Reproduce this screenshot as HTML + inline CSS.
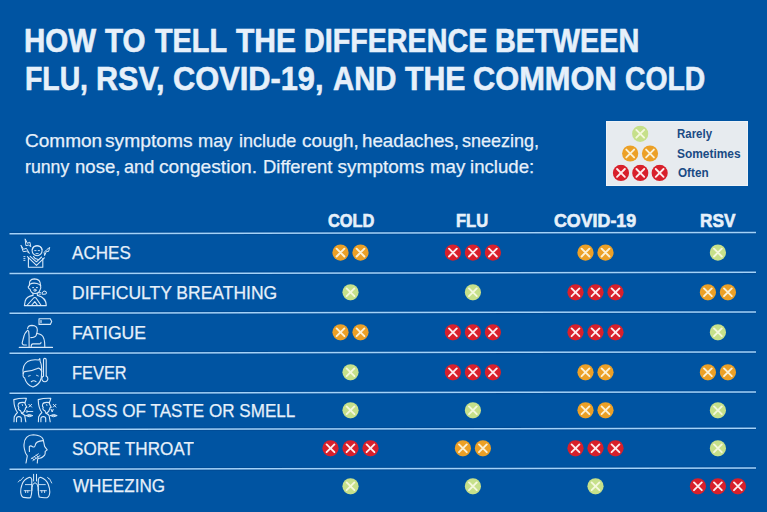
<!DOCTYPE html>
<html><head><meta charset="utf-8">
<style>
html,body{margin:0;padding:0;}
body{width:767px;height:512px;overflow:hidden;background:#0054a2;position:relative;font-family:"Liberation Sans",sans-serif;}
.t{position:absolute;white-space:nowrap;line-height:1;transform-origin:0 0;}
svg{position:absolute;left:0;top:0;}
</style></head><body>

<div style="position:absolute;left:605.7px;top:120.8px;width:142.1px;height:65px;background:#e7ebef;box-shadow:inset 0 0 0 1px #eef3f8"></div>
<div class="t" style="left:24.18px;top:24.80px;font-size:32.5px;font-weight:bold;color:#e6f0fa;-webkit-text-stroke:0.6px #e6f0fa;transform:scaleX(0.9077)">HOW</div>
<div class="t" style="left:105.40px;top:24.80px;font-size:32.5px;font-weight:bold;color:#e6f0fa;-webkit-text-stroke:0.6px #e6f0fa;transform:scaleX(0.9068)">TO</div>
<div class="t" style="left:155.00px;top:24.80px;font-size:32.5px;font-weight:bold;color:#e6f0fa;-webkit-text-stroke:0.6px #e6f0fa;transform:scaleX(0.8877)">TELL</div>
<div class="t" style="left:235.90px;top:24.80px;font-size:32.5px;font-weight:bold;color:#e6f0fa;-webkit-text-stroke:0.6px #e6f0fa;transform:scaleX(0.9234)">THE</div>
<div class="t" style="left:303.53px;top:24.80px;font-size:32.5px;font-weight:bold;color:#e6f0fa;-webkit-text-stroke:0.6px #e6f0fa;transform:scaleX(0.8827)">DIFFERENCE</div>
<div class="t" style="left:494.82px;top:24.80px;font-size:32.5px;font-weight:bold;color:#e6f0fa;-webkit-text-stroke:0.6px #e6f0fa;transform:scaleX(0.8887)">BETWEEN</div>
<div class="t" style="left:24.56px;top:62.80px;font-size:32.5px;font-weight:bold;color:#e6f0fa;-webkit-text-stroke:0.6px #e6f0fa;transform:scaleX(0.8725)">FLU,</div>
<div class="t" style="left:96.32px;top:62.80px;font-size:32.5px;font-weight:bold;color:#e6f0fa;-webkit-text-stroke:0.6px #e6f0fa;transform:scaleX(0.9391)">RSV,</div>
<div class="t" style="left:172.95px;top:62.80px;font-size:32.5px;font-weight:bold;color:#e6f0fa;-webkit-text-stroke:0.6px #e6f0fa;transform:scaleX(0.9468)">COVID-19,</div>
<div class="t" style="left:332.50px;top:62.80px;font-size:32.5px;font-weight:bold;color:#e6f0fa;-webkit-text-stroke:0.6px #e6f0fa;transform:scaleX(0.9014)">AND</div>
<div class="t" style="left:405.00px;top:62.80px;font-size:32.5px;font-weight:bold;color:#e6f0fa;-webkit-text-stroke:0.6px #e6f0fa;transform:scaleX(0.9297)">THE</div>
<div class="t" style="left:473.05px;top:62.80px;font-size:32.5px;font-weight:bold;color:#e6f0fa;-webkit-text-stroke:0.6px #e6f0fa;transform:scaleX(0.9477)">COMMON</div>
<div class="t" style="left:625.23px;top:62.80px;font-size:32.5px;font-weight:bold;color:#e6f0fa;-webkit-text-stroke:0.6px #e6f0fa;transform:scaleX(0.8711)">COLD</div>
<div class="t" style="left:24.50px;top:131.20px;font-size:19px;color:#e6f0fa;-webkit-text-stroke:0.25px #e6f0fa;transform:scaleX(1.0013)">Common</div>
<div class="t" style="left:104.79px;top:131.20px;font-size:19px;color:#e6f0fa;-webkit-text-stroke:0.25px #e6f0fa;transform:scaleX(1.0118)">symptoms</div>
<div class="t" style="left:197.94px;top:131.20px;font-size:19px;color:#e6f0fa;-webkit-text-stroke:0.25px #e6f0fa;transform:scaleX(0.9600)">may</div>
<div class="t" style="left:239.25px;top:131.20px;font-size:19px;color:#e6f0fa;-webkit-text-stroke:0.25px #e6f0fa;transform:scaleX(0.9508)">include</div>
<div class="t" style="left:301.60px;top:131.20px;font-size:19px;color:#e6f0fa;-webkit-text-stroke:0.25px #e6f0fa;transform:scaleX(0.9964)">cough,</div>
<div class="t" style="left:362.31px;top:131.20px;font-size:19px;color:#e6f0fa;-webkit-text-stroke:0.25px #e6f0fa;transform:scaleX(0.9865)">headaches,</div>
<div class="t" style="left:462.05px;top:131.20px;font-size:19px;color:#e6f0fa;-webkit-text-stroke:0.25px #e6f0fa;transform:scaleX(0.9468)">sneezing,</div>
<div class="t" style="left:24.57px;top:156.50px;font-size:19px;color:#e6f0fa;-webkit-text-stroke:0.25px #e6f0fa;transform:scaleX(0.9319)">runny</div>
<div class="t" style="left:74.62px;top:156.50px;font-size:19px;color:#e6f0fa;-webkit-text-stroke:0.25px #e6f0fa;transform:scaleX(0.9773)">nose,</div>
<div class="t" style="left:123.95px;top:156.50px;font-size:19px;color:#e6f0fa;-webkit-text-stroke:0.25px #e6f0fa;transform:scaleX(0.9533)">and</div>
<div class="t" style="left:158.69px;top:156.50px;font-size:19px;color:#e6f0fa;-webkit-text-stroke:0.25px #e6f0fa;transform:scaleX(1.0095)">congestion.</div>
<div class="t" style="left:262.53px;top:156.50px;font-size:19px;color:#e6f0fa;-webkit-text-stroke:0.25px #e6f0fa;transform:scaleX(0.9690)">Different</div>
<div class="t" style="left:337.60px;top:156.50px;font-size:19px;color:#e6f0fa;-webkit-text-stroke:0.25px #e6f0fa;transform:scaleX(1.0000)">symptoms</div>
<div class="t" style="left:429.62px;top:156.50px;font-size:19px;color:#e6f0fa;-webkit-text-stroke:0.25px #e6f0fa;transform:scaleX(0.9829)">may</div>
<div class="t" style="left:470.32px;top:156.50px;font-size:19px;color:#e6f0fa;-webkit-text-stroke:0.25px #e6f0fa;transform:scaleX(0.9810)">include:</div>
<div class="t" style="left:677.08px;top:127.80px;font-size:12.5px;font-weight:bold;color:#1a4a84;transform:scaleX(0.9162)">Rarely</div>
<div class="t" style="left:677.05px;top:147.70px;font-size:12.5px;font-weight:bold;color:#1a4a84;transform:scaleX(0.9538)">Sometimes</div>
<div class="t" style="left:678.00px;top:166.80px;font-size:12.5px;font-weight:bold;color:#1a4a84;transform:scaleX(0.9375)">Often</div>
<div class="t" style="left:327.90px;top:212.90px;font-size:17.5px;font-weight:bold;color:#e6f0fa;-webkit-text-stroke:0.6px #e6f0fa;transform:scaleX(0.9367)">COLD</div>
<div class="t" style="left:456.26px;top:212.90px;font-size:17.5px;font-weight:bold;color:#e6f0fa;-webkit-text-stroke:0.6px #e6f0fa;transform:scaleX(0.9424)">FLU</div>
<div class="t" style="left:554.30px;top:212.90px;font-size:17.5px;font-weight:bold;color:#e6f0fa;-webkit-text-stroke:0.6px #e6f0fa;transform:scaleX(1.0173)">COVID-19</div>
<div class="t" style="left:699.62px;top:212.90px;font-size:17.5px;font-weight:bold;color:#e6f0fa;-webkit-text-stroke:0.6px #e6f0fa;transform:scaleX(0.9829)">RSV</div>
<div class="t" style="left:72.20px;top:244.00px;font-size:18.5px;color:#e6f0fa;-webkit-text-stroke:0.25px #e6f0fa;transform:scaleX(0.9222)">ACHES</div>
<div class="t" style="left:71.55px;top:283.90px;font-size:18.5px;color:#e6f0fa;-webkit-text-stroke:0.25px #e6f0fa;transform:scaleX(0.9460)">DIFFICULTY BREATHING</div>
<div class="t" style="left:72.05px;top:324.00px;font-size:18.5px;color:#e6f0fa;-webkit-text-stroke:0.25px #e6f0fa;transform:scaleX(0.9526)">FATIGUE</div>
<div class="t" style="left:72.11px;top:364.00px;font-size:18.5px;color:#e6f0fa;-webkit-text-stroke:0.25px #e6f0fa;transform:scaleX(0.8867)">FEVER</div>
<div class="t" style="left:72.18px;top:401.90px;font-size:18.5px;color:#e6f0fa;-webkit-text-stroke:0.25px #e6f0fa;transform:scaleX(0.9232)">LOSS OF TASTE OR SMELL</div>
<div class="t" style="left:71.58px;top:439.90px;font-size:18.5px;color:#e6f0fa;-webkit-text-stroke:0.25px #e6f0fa;transform:scaleX(0.9237)">SORE THROAT</div>
<div class="t" style="left:72.50px;top:477.40px;font-size:18.5px;color:#e6f0fa;-webkit-text-stroke:0.25px #e6f0fa;transform:scaleX(0.9232)">WHEEZING</div>
<svg width="767" height="512" viewBox="0 0 767 512">
<defs>
<symbol id="g" viewBox="0 0 17 17"><circle cx="8.5" cy="8.5" r="8.1" fill="#c6e08a"/><path d="M4.6,4.6 L12.4,12.4 M12.4,4.6 L4.6,12.4" stroke="#f4f8dc" stroke-width="1.9" stroke-linecap="round"/></symbol>
<symbol id="o" viewBox="0 0 17 17"><circle cx="8.5" cy="8.5" r="8.1" fill="#eca026"/><path d="M4.6,4.6 L12.4,12.4 M12.4,4.6 L4.6,12.4" stroke="#fbf0d4" stroke-width="1.9" stroke-linecap="round"/></symbol>
<symbol id="r" viewBox="0 0 17 17"><circle cx="8.5" cy="8.5" r="8.1" fill="#d8202b"/><path d="M4.6,4.6 L12.4,12.4 M12.4,4.6 L4.6,12.4" stroke="#fdeced" stroke-width="1.9" stroke-linecap="round"/></symbol>
</defs>
<line x1="9.5" y1="233.65" x2="756" y2="232.45" stroke="#00458c" stroke-opacity="0.55" stroke-width="3.6"/>
<line x1="9.5" y1="233.65" x2="756" y2="232.45" stroke="#a4d2f8" stroke-width="1.5"/>
<line x1="9.5" y1="273.55" x2="756" y2="272.35" stroke="#00458c" stroke-opacity="0.55" stroke-width="3.6"/>
<line x1="9.5" y1="273.55" x2="756" y2="272.35" stroke="#a4d2f8" stroke-width="1.5"/>
<line x1="9.5" y1="313.15" x2="756" y2="311.95" stroke="#00458c" stroke-opacity="0.55" stroke-width="3.6"/>
<line x1="9.5" y1="313.15" x2="756" y2="311.95" stroke="#a4d2f8" stroke-width="1.5"/>
<line x1="9.5" y1="353.15" x2="756" y2="351.95" stroke="#00458c" stroke-opacity="0.55" stroke-width="3.6"/>
<line x1="9.5" y1="353.15" x2="756" y2="351.95" stroke="#a4d2f8" stroke-width="1.5"/>
<line x1="9.5" y1="393.15" x2="756" y2="391.95" stroke="#00458c" stroke-opacity="0.55" stroke-width="3.6"/>
<line x1="9.5" y1="393.15" x2="756" y2="391.95" stroke="#a4d2f8" stroke-width="1.5"/>
<line x1="9.5" y1="429.45" x2="756" y2="428.25" stroke="#00458c" stroke-opacity="0.55" stroke-width="3.6"/>
<line x1="9.5" y1="429.45" x2="756" y2="428.25" stroke="#a4d2f8" stroke-width="1.5"/>
<line x1="9.5" y1="469.25" x2="756" y2="468.05" stroke="#00458c" stroke-opacity="0.55" stroke-width="3.6"/>
<line x1="9.5" y1="469.25" x2="756" y2="468.05" stroke="#a4d2f8" stroke-width="1.5"/>
<use href="#g" x="631.70" y="125.30" width="17" height="17"/>
<use href="#o" x="621.70" y="145.00" width="17" height="17"/>
<use href="#o" x="641.50" y="145.00" width="17" height="17"/>
<use href="#r" x="612.45" y="164.40" width="17" height="17"/>
<use href="#r" x="631.80" y="164.40" width="17" height="17"/>
<use href="#r" x="651.15" y="164.40" width="17" height="17"/>
<use href="#o" x="332.00" y="244.10" width="17" height="17"/>
<use href="#o" x="352.00" y="244.10" width="17" height="17"/>
<use href="#r" x="444.40" y="244.10" width="17" height="17"/>
<use href="#r" x="464.40" y="244.10" width="17" height="17"/>
<use href="#r" x="484.40" y="244.10" width="17" height="17"/>
<use href="#o" x="577.00" y="244.10" width="17" height="17"/>
<use href="#o" x="597.00" y="244.10" width="17" height="17"/>
<use href="#g" x="709.40" y="244.10" width="17" height="17"/>
<use href="#g" x="342.00" y="283.80" width="17" height="17"/>
<use href="#g" x="464.40" y="283.80" width="17" height="17"/>
<use href="#r" x="567.00" y="283.80" width="17" height="17"/>
<use href="#r" x="587.00" y="283.80" width="17" height="17"/>
<use href="#r" x="607.00" y="283.80" width="17" height="17"/>
<use href="#o" x="699.40" y="283.80" width="17" height="17"/>
<use href="#o" x="719.40" y="283.80" width="17" height="17"/>
<use href="#o" x="332.00" y="323.80" width="17" height="17"/>
<use href="#o" x="352.00" y="323.80" width="17" height="17"/>
<use href="#r" x="444.40" y="323.80" width="17" height="17"/>
<use href="#r" x="464.40" y="323.80" width="17" height="17"/>
<use href="#r" x="484.40" y="323.80" width="17" height="17"/>
<use href="#r" x="567.00" y="323.80" width="17" height="17"/>
<use href="#r" x="587.00" y="323.80" width="17" height="17"/>
<use href="#r" x="607.00" y="323.80" width="17" height="17"/>
<use href="#g" x="709.40" y="323.80" width="17" height="17"/>
<use href="#g" x="342.00" y="363.80" width="17" height="17"/>
<use href="#r" x="444.40" y="363.80" width="17" height="17"/>
<use href="#r" x="464.40" y="363.80" width="17" height="17"/>
<use href="#r" x="484.40" y="363.80" width="17" height="17"/>
<use href="#o" x="577.00" y="363.80" width="17" height="17"/>
<use href="#o" x="597.00" y="363.80" width="17" height="17"/>
<use href="#o" x="699.40" y="363.80" width="17" height="17"/>
<use href="#o" x="719.40" y="363.80" width="17" height="17"/>
<use href="#g" x="342.00" y="401.80" width="17" height="17"/>
<use href="#g" x="464.40" y="401.80" width="17" height="17"/>
<use href="#o" x="577.00" y="401.80" width="17" height="17"/>
<use href="#o" x="597.00" y="401.80" width="17" height="17"/>
<use href="#g" x="709.40" y="401.80" width="17" height="17"/>
<use href="#r" x="322.00" y="439.80" width="17" height="17"/>
<use href="#r" x="342.00" y="439.80" width="17" height="17"/>
<use href="#r" x="362.00" y="439.80" width="17" height="17"/>
<use href="#o" x="454.40" y="439.80" width="17" height="17"/>
<use href="#o" x="474.40" y="439.80" width="17" height="17"/>
<use href="#r" x="567.00" y="439.80" width="17" height="17"/>
<use href="#r" x="587.00" y="439.80" width="17" height="17"/>
<use href="#r" x="607.00" y="439.80" width="17" height="17"/>
<use href="#g" x="709.40" y="439.80" width="17" height="17"/>
<use href="#g" x="342.00" y="477.80" width="17" height="17"/>
<use href="#g" x="464.40" y="477.80" width="17" height="17"/>
<use href="#g" x="587.00" y="477.80" width="17" height="17"/>
<use href="#r" x="689.40" y="477.80" width="17" height="17"/>
<use href="#r" x="709.40" y="477.80" width="17" height="17"/>
<use href="#r" x="729.40" y="477.80" width="17" height="17"/>
<g fill="none" stroke="#d8e9f9" stroke-width="1.1" stroke-linecap="round" stroke-linejoin="round">
<!-- aches -->
<g transform="translate(20,238)">
<ellipse cx="17.1" cy="12.6" rx="5" ry="5.1"/>
<path d="M12.3,11.5 Q13,8 17,8 Q21.3,8 22,11.5"/>
<path d="M14.7,12.6 h1.3 M18.2,12.6 h1.3 M16,15.6 h2.2" stroke-width="0.9"/>
<path d="M8.4,19.8 L8.4,29.3 L22.8,29.3 L22.8,20.6"/>
<path d="M7.4,18.7 L16.5,27.4 L24.3,19.9 M10.2,18.4 L16.4,23.8 L21.6,19 M13.5,18.6 Q15,21.5 17.8,21.2"/>
<path d="M5.3,1.2 L7.4,5.3 L9.9,4.2 L10.8,8.6 L8.6,7.1 L6.3,7.6 Z" stroke-width="1"/>
<path d="M1.2,7.6 L3.5,11.3 L6.4,10.3 L9.4,15.4 L6.7,13.2 L3.6,13.6 Z" stroke-width="1"/>
<path d="M29.6,9.8 L28.6,13.4 L26.4,13.4 L24.6,17.6 L24.2,14.4 L26.6,11.8 Z" stroke-width="1"/>
<path d="M3.8,18.6 h1.2 M3.8,20.6 h1.2 M3.8,22.4 h1.2" stroke-width="0.9"/>
</g>
<!-- difficulty breathing -->
<g transform="translate(10,275)">
<path d="M19.4,10.4 Q18.6,4.2 24.4,3.9 Q30.6,4 30.6,10.6"/>
<path d="M19.4,9.4 Q23,7.4 26.9,8.5 Q29.5,9.2 30.6,10.6"/>
<path d="M19.4,10.4 Q17.8,11.2 18.3,12.6 Q18.8,14 20,14.1 Q21,18.3 25,18.5 Q29.2,18.3 30.1,14.6 Q31.2,13.2 30.6,10.6"/>
<path d="M22.6,12.6 h1 M26.4,12.6 h1" stroke-width="1"/>
<circle cx="25" cy="15.2" r="1.1" stroke-width="1"/>
<path d="M22.9,18.4 L23.1,20.4 Q16.5,21.5 15.2,26 L14.4,30.6 L36.3,30.6 Q36.2,22.5 27.4,20.4 L27.2,18.4"/>
<path d="M16.9,30.5 L23.6,23 Q24.8,21.8 26.2,23.2 L31.2,30.5"/>
<path d="M21.4,30.5 L24.8,26.6 L27.6,30.5"/>
<path d="M32.2,19 Q31.4,17.4 33,17 Q33.5,15.5 35,16.2 Q36.8,16.4 36.4,18.2 Q36.6,19.1 35.4,19.1 Z" stroke-width="1"/>
<path d="M28.6,17.6 L30.8,17.6 M29,19.2 L30.8,19.2" stroke-width="0.9"/>
</g>
<!-- fatigue -->
<g transform="translate(10,314)">
<path d="M29,4.8 L40.3,4.8 L41.7,7.6 L40.3,10.4 L29,10.4 Z"/>
<path d="M31,6.6 L31,8.6" stroke-width="1.2"/>
<path d="M17.6,14.8 Q17.8,11.4 22,11.4 Q27.3,11.6 27.3,16 Q27.3,18.4 26.2,21.2 Q25,23.5 20.8,23.6"/>
<path d="M16.4,17.6 Q17.6,15.6 18.7,17.2 L19.1,22.2 L19.1,32.4"/>
<path d="M16.4,17.6 Q14.4,19.5 14,22 L12.2,28.6 Q12,30.8 14,31 L16.4,31"/>
<path d="M27.2,19.5 Q31.8,20.3 33.2,23 Q34.4,25.5 34.6,28.4 L34.8,32.5"/>
<path d="M21.2,32.4 Q21.2,30 23,29.9 L29.6,29.9 Q31,29.9 31,28.4"/>
<path d="M9.3,33.4 L42.5,33.4" stroke-width="1.2"/>
</g>
<!-- fever -->
<g transform="translate(10,354)">
<path d="M13.2,19.6 Q12,11 17.5,7.6 Q22,5 28.6,6 L29.8,4.6 L30.2,7.8 Q31.7,10 31.7,17.2"/>
<path d="M13.2,19.6 Q12.6,23.4 14.6,23.8 Q16.5,31.2 23,33 Q29.5,31 31.3,24 L31.7,17.2 Q29.5,13.2 27.4,14.4 Q21,17.5 14.5,17.6 Q13.5,18.2 13.2,19.6"/>
<path d="M18.3,22.2 L20.2,21.6 M26.5,21.3 L28.3,22" stroke-width="0.9"/>
<path d="M21.3,27.7 Q23.7,25.8 26,27.7"/>
<path d="M33.5,22 L33.5,5.8 Q33.5,4.4 34.8,4.4 Q36.2,4.4 36.2,5.8 L36.2,22"/>
<path d="M33.5,22 A3,3 0 1 0 36.2,22"/>
</g>
<!-- loss of taste -->
<g transform="translate(10,396)">
<path d="M4,25.8 L4.2,21 Q5,18.8 7.5,16.5 Q4,12.5 3.8,3.6 Q10,2 16.4,2.4 Q15.8,5 14.8,6.6"/>
<path d="M14.8,6.6 Q15.5,9.5 16.8,11.2 L15.4,12 Q15.8,13.5 14.6,14.2 Q14.8,15.5 13.6,16 L11.8,17.4 Q14.4,18.2 14.8,20 L15.8,25.8"/>
<path d="M14.8,6.6 Q9,5.8 8.2,8.4 Q7.6,10.2 8.8,11.4 Q7.6,13.6 10.5,14.8 L11.8,17.4"/>
<path d="M6.5,25.8 L6.5,22.6 Q6.5,20.6 8.9,20.6 Q11.3,20.6 11.3,22.6 L11.3,25.8"/>
<path d="M12.3,8.6 L12.5,9.4" stroke-width="1"/>
<path d="M18.8,8.3 L21.6,11.1 M21.6,8.3 L18.8,11.1" stroke-width="1"/>
<circle cx="17" cy="15.5" r="0.9" stroke-width="0.9"/>
<path d="M18.3,15.5 L22.8,15.5" stroke-width="0.9"/>
<path d="M15.8,19.6 Q19.3,17.2 22.8,19.6 Q19.3,22 15.8,19.6 Z M17.6,19.7 L21,19.7" stroke-width="1"/>
</g>
<g transform="translate(34.4,396)">
<path d="M4,25.8 L4.2,21 Q5,18.8 7.5,16.5 Q4,12.5 3.8,3.6 Q10,2 16.4,2.4 Q15.8,5 14.8,6.6"/>
<path d="M14.8,6.6 Q15.5,9.5 16.8,11.2 L15.4,12 Q15.8,13.5 14.6,14.2 Q14.8,15.5 13.6,16 L11.8,17.4 Q14.4,18.2 14.8,20 L15.8,25.8"/>
<path d="M14.8,6.6 Q9,5.8 8.2,8.4 Q7.6,10.2 8.8,11.4 Q7.6,13.6 10.5,14.8 L11.8,17.4"/>
<path d="M6.5,25.8 L6.5,22.6 Q6.5,20.6 8.9,20.6 Q11.3,20.6 11.3,22.6 L11.3,25.8"/>
<path d="M12.3,8.6 L12.5,9.4" stroke-width="1"/>
<path d="M18.8,8.3 L21.6,11.1 M21.6,8.3 L18.8,11.1" stroke-width="1"/>
<path d="M16.8,13.4 L17.8,16 L18.8,13.4" stroke-width="1"/>
<path d="M15.8,19.6 Q19.3,17.2 22.8,19.6 Q19.3,22 15.8,19.6 Z M17.6,19.7 L21,19.7" stroke-width="1"/>
</g>
<!-- sore throat -->
<g transform="translate(10,430)">
<path d="M16,33 L17.3,25.9 Q15,23 14.4,19 Q13.8,16 14,14.6 Q14.5,4.8 23.3,4.7 Q31.5,5 33.2,9.5 L34.6,16.4 L37.2,19.9 L35.2,21.4 Q35.3,24.4 34.6,25.2 Q32,28.5 27.9,28.5 Q27.3,30.5 27.3,33"/>
<path d="M19.4,21.4 L19.3,16.6 Q20.6,15.2 22.6,16.8 Q24.8,17.8 25.3,15 Q25.6,11.2 33,10.6"/>
<path d="M21.2,28.8 L28.4,23.8 M22.8,30.6 L30,25.6 M22.3,27.9 L23.9,30 M24.4,26.5 L26,28.6 M26.5,25.1 L28.1,27.2" stroke-width="0.9"/>
</g>
<!-- wheezing -->
<g transform="translate(10,470)">
<path d="M23.6,4.3 L23.6,11 M26.5,4.3 L26.5,11" stroke-width="1"/>
<path d="M21.8,20.5 Q21.8,13.4 25,12.8 Q28.3,13.4 28.3,20.5" stroke-width="1"/>
<path d="M19.5,7.3 Q13.6,9.5 12,14.5 Q10.5,18.5 10.7,22 Q11,26.5 13.5,27.4 Q17.5,28.2 20.6,27.6 Q21.8,24 21.8,20.5 L21.8,9.6 Q21.4,7.3 19.5,7.3 Z"/>
<path d="M30.6,7.3 Q36.5,9.5 38.3,14.5 Q39.8,18.5 39.8,22 Q39.5,26.5 37.2,27.6 Q33,28.2 29.2,27 Q28.3,24 28.3,20.5 L28.3,9.6 Q28.7,7.3 30.6,7.3 Z"/>
<path d="M15.4,14.6 L21.8,14.6 M14.2,20.7 L20.2,20.7 M15.6,20.7 L15.6,22.6 M17.8,20.7 L17.8,22.6" stroke-width="0.9"/>
<path d="M29.4,14.6 L35.3,14.6 M30.2,20.7 L36.4,20.7 M31.8,20.7 L31.8,22.6 M34.6,20.7 L34.6,22.6" stroke-width="0.9"/>
<path d="M8.3,12 L9.8,10.2 L10.6,10.5 L12,8.6 L13.6,7.3" stroke-width="0.9"/>
<path d="M37.6,7.3 L38.9,9 L39.6,8.8 L40.6,10.8 L41.7,13" stroke-width="0.9"/>
</g>
</g>

</svg>
</body></html>
